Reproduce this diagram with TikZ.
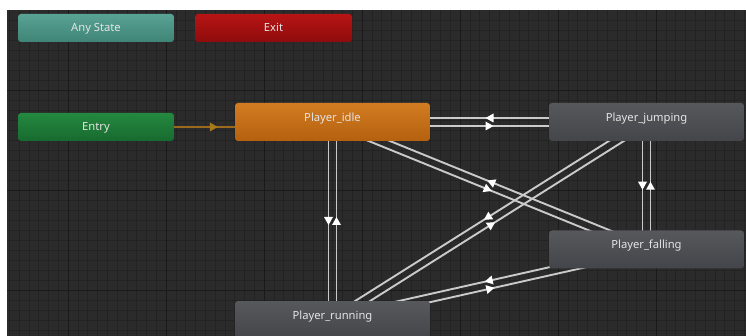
\documentclass[tikz,border=0pt]{standalone}
\usepackage{fontspec}
\setmainfont{Noto Sans}
\usetikzlibrary{calc,decorations.markings}

\definecolor{gridbg}{HTML}{2B2B2B}
\definecolor{gridminor}{HTML}{232323}
\definecolor{gridmajor}{HTML}{1A1A1A}
\definecolor{anytop}{HTML}{58A394}
\definecolor{anybot}{HTML}{3F8476}
\definecolor{exittop}{HTML}{B81414}
\definecolor{exitbot}{HTML}{8E0C0C}
\definecolor{entrytop}{HTML}{24893F}
\definecolor{entrybot}{HTML}{176A2F}
\definecolor{idletop}{HTML}{D27C22}
\definecolor{idlebot}{HTML}{B4600E}
\definecolor{playertop}{HTML}{57585C}
\definecolor{playerbot}{HTML}{44454A}
\definecolor{labeltext}{HTML}{E4E4E4}
\definecolor{transline}{HTML}{CACACA}
\definecolor{entryline}{HTML}{9C6A1E}

\pgfdeclarelayer{grid}
\pgfdeclarelayer{edges}
\pgfsetlayers{grid,edges,main}

\tikzset{
	state/.style={rounded corners=3pt, inner sep=0pt, text=labeltext,
		font=\fontsize{11.2}{13}\selectfont},
	small/.style={state, minimum width=156pt, minimum height=28pt,
		text height=8pt, text depth=0pt},
	player/.style={state, minimum width=195pt, minimum height=38pt,
		text height=8pt, text depth=9pt,
		top color=playertop, bottom color=playerbot},
	trans/.style={draw=transline, line width=1.9pt, postaction={decorate},
		decoration={markings, mark=at position 0.5 with
			{\fill[white] (4pt,0) -- (-4pt,4.5pt) -- (-4pt,-4.5pt) -- cycle;}}},
	entrytrans/.style={draw=entryline, line width=1.9pt, postaction={decorate},
		decoration={markings, mark=at position 0.72 with
			{\fill[entryline!90!yellow] (0,0) -- (-8pt,4.5pt) -- (-8pt,-4.5pt) -- cycle;}}},
	minor/.style={draw=gridminor, line width=0.6pt},
	major/.style={draw=gridmajor, line width=0.9pt}
}

\newcommand{\transit}[2]{\draw[trans] ($(#1)!\gap!-90:(#2)$) -- ($(#2)!\gap!90:(#1)$);}

\begin{document}
\begin{tikzpicture}[x=1pt, y=-1pt]
	\def\gap{4pt}
	\useasboundingbox (0,0) rectangle (746,336);

	% grid
	\begin{pgfonlayer}{grid}
		\fill[white] (0,0) rectangle (746,336);
		\fill[gridbg] (7,10) rectangle (746,336);
		\foreach \i in {0,...,75}
			\draw[minor] ({9.2+\i*9.8},10) -- ({9.2+\i*9.8},336);
		\foreach \j in {1,...,32}
			\draw[minor] (7,{10+\j*10}) -- (746,{10+\j*10});
		\foreach \i in {6,16,...,66}
			\draw[major] ({9.2+\i*9.8},10) -- ({9.2+\i*9.8},336);
		\foreach \y in {90,190,290}
			\draw[major] (7,\y) -- (746,\y);
	\end{pgfonlayer}

	% states
	\node[small, top color=anytop, bottom color=anybot] (any) at (96,28) {Any State};
	\node[small, minimum width=157pt, top color=exittop, bottom color=exitbot] (exit) at (273.5,28) {Exit};
	\node[small, top color=entrytop, bottom color=entrybot] (entry) at (96,127) {Entry};
	\node[player, top color=idletop, bottom color=idlebot] (idle) at (332.5,122) {Player\_idle};
	\node[player] (jump) at (646.5,122) {Player\_jumping};
	\node[player] (fall) at (646.5,249.5) {Player\_falling};
	\node[player] (run) at (332.5,320) {Player\_running};

	% transitions
	\begin{pgfonlayer}{edges}
		\draw[entrytrans] (entry.east) -- (entry.east -| idle.west);
		\transit{idle}{jump}
		\transit{jump}{idle}
		\transit{idle}{run}
		\transit{run}{idle}
		\transit{jump}{fall}
		\transit{fall}{jump}
		\transit{idle}{fall}
		\transit{fall}{idle}
		\transit{run}{jump}
		\transit{jump}{run}
		\transit{run}{fall}
		\transit{fall}{run}
	\end{pgfonlayer}
\end{tikzpicture}
\end{document}
